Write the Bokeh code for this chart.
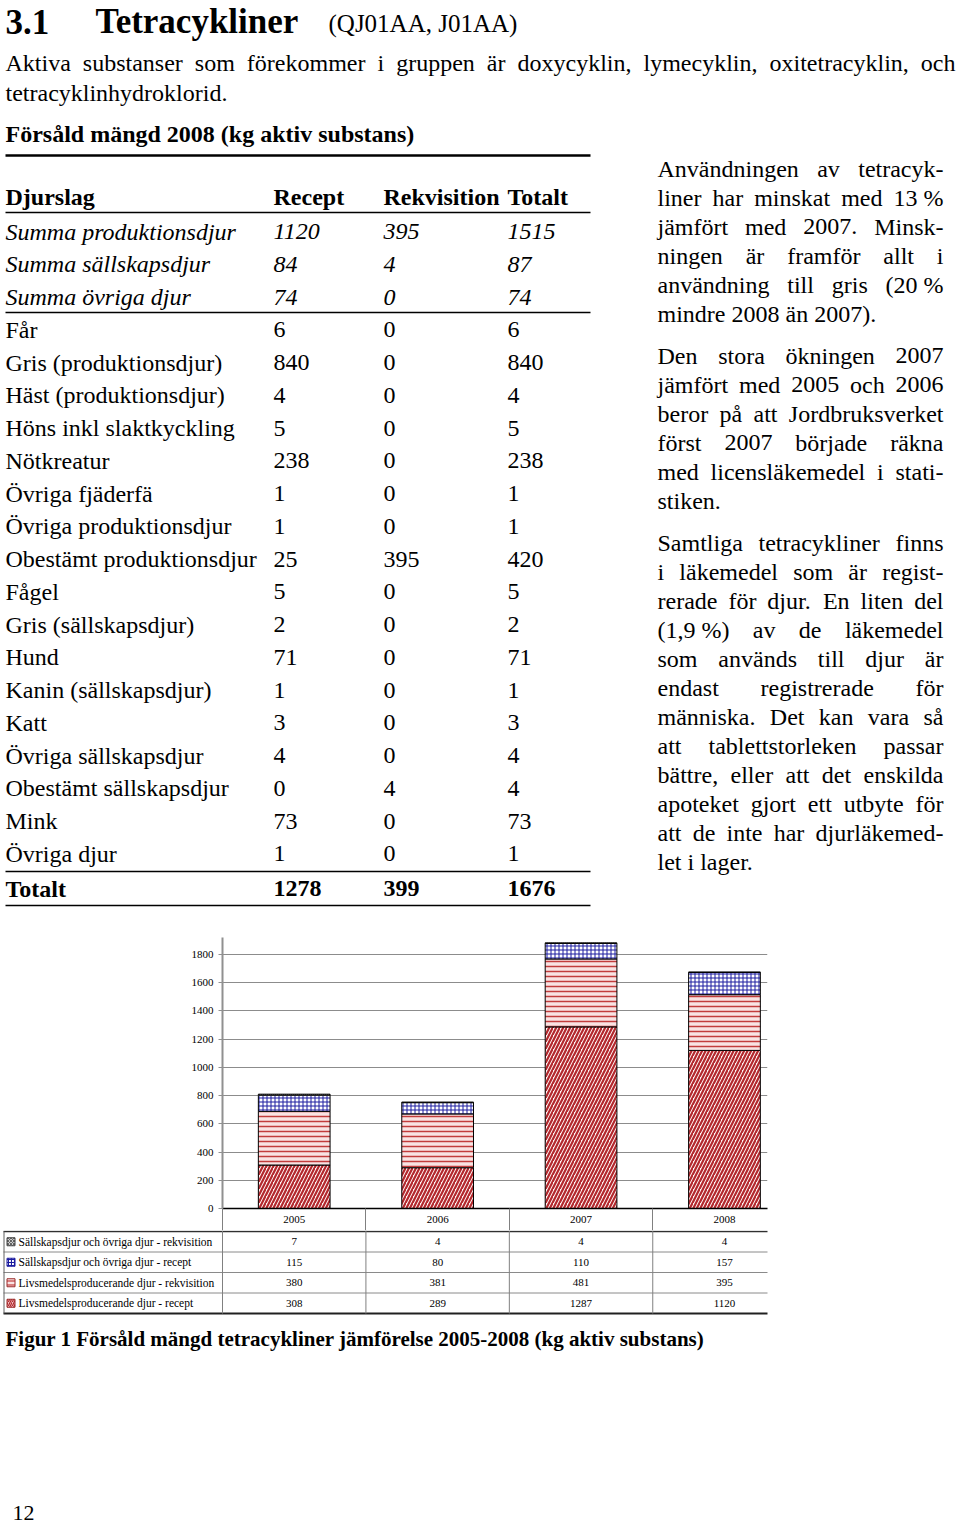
from bokeh.plotting import figure
from bokeh.models import Range1d, FixedTicker, ColumnDataSource
from bokeh.layouts import column
from bokeh.core.properties import value
from bokeh.embed import file_html
from bokeh.resources import INLINE

# ---------------- data ----------------
years = ["2005", "2006", "2007", "2008"]
livs_recept = [308, 289, 1287, 1120]
livs_rekvisition = [380, 381, 481, 395]
sall_recept = [115, 80, 110, 157]
sall_rekvisition = [7, 4, 4, 4]
y_ticks = [0, 200, 400, 600, 800, 1000, 1200, 1400, 1600, 1800]
legend_labels = [
    "Sällskapsdjur och övriga djur - rekvisition",
    "Sällskapsdjur och övriga djur - recept",
    "Livsmedelsproducerande djur - rekvisition",
    "Livsmedelsproducerande djur - recept",
]

table_header = ["Djurslag", "Recept", "Rekvisition", "Totalt"]
djurslag = ["Summa produktionsdjur", "Summa sällskapsdjur", "Summa övriga djur",
            "Får", "Gris (produktionsdjur)", "Häst (produktionsdjur)",
            "Höns inkl slaktkyckling", "Nötkreatur", "Övriga fjäderfä",
            "Övriga produktionsdjur", "Obestämt produktionsdjur", "Fågel",
            "Gris (sällskapsdjur)", "Hund", "Kanin (sällskapsdjur)", "Katt",
            "Övriga sällskapsdjur", "Obestämt sällskapsdjur", "Mink", "Övriga djur"]
recept = [1120, 84, 74, 6, 840, 4, 5, 238, 1, 1, 25, 5, 2, 71, 1, 3, 4, 0, 73, 1]
rekvisition = [395, 4, 0, 0, 0, 0, 0, 0, 0, 0, 395, 0, 0, 0, 0, 0, 0, 4, 0, 0]
totalt = [1515, 87, 74, 6, 840, 4, 5, 238, 1, 1, 420, 5, 2, 71, 1, 3, 4, 4, 73, 1]
totalt_row = ["Totalt", 1278, 399, 1676]

intro_lines = ["Aktiva substanser som förekommer i gruppen är doxycyklin, lymecyklin, oxitetracyklin, och",
               "tetracyklinhydroklorid."]
paragraphs = [
    ["Användningen av tetracyk-", "liner har minskat med 13\u00a0%", "jämfört med 2007. Minsk-",
     "ningen är framför allt i", "användning till gris (20\u00a0%", "mindre 2008 än 2007)."],
    ["Den stora ökningen 2007", "jämfört med 2005 och 2006", "beror på att Jordbruksverket",
     "först 2007 började räkna", "med licensläkemedel i stati-", "stiken."],
    ["Samtliga tetracykliner finns", "i läkemedel som är regist-", "rerade för djur. En liten del",
     "(1,9\u00a0%) av de läkemedel", "som används till djur är", "endast registrerade för",
     "människa. Det kan vara så", "att tablettstorleken passar", "bättre, eller att det enskilda",
     "apoteket gjort ett utbyte för", "att de inte har djurläkemed-", "let i lager."],
]

FONT = "Liberation Serif"
SERIF = value(FONT)

# Times (Liberation Serif) advance widths, per 1000 em
TIMES = {' ': 250, '\u00a0': 250, '%': 833, '(': 333, ')': 333, ',': 250, '-': 333, '.': 250,
         'A': 722, 'B': 667, 'C': 667, 'D': 722, 'E': 611, 'F': 556, 'G': 722, 'H': 722, 'I': 333,
         'J': 389, 'K': 722, 'L': 611, 'M': 889, 'N': 722, 'O': 722, 'P': 556, 'Q': 722, 'R': 667,
         'S': 556, 'T': 611, 'U': 722, 'V': 722, 'W': 944, 'X': 722, 'Y': 722, 'Z': 611,
         'a': 444, 'b': 500, 'c': 444, 'd': 500, 'e': 444, 'f': 333, 'g': 500, 'h': 500, 'i': 278,
         'j': 278, 'k': 500, 'l': 278, 'm': 778, 'n': 500, 'o': 500, 'p': 500, 'q': 500, 'r': 333,
         's': 389, 't': 278, 'u': 500, 'v': 500, 'w': 722, 'x': 500, 'y': 500, 'z': 444,
         'å': 444, 'ä': 444, 'ö': 500, 'Ö': 722, 'Ä': 722, 'Å': 722}


def tw(s, size):
    return sum(TIMES.get(c, 500) for c in s) * size / 1000.0


def txt(p, xs, ys, texts, size, style="normal", align="left", baseline="middle", **kw):
    p.text(x=xs, y=ys, text=texts, text_font=SERIF, text_font_size=f"{size}px",
           text_font_style=style, text_align=align, text_baseline=baseline,
           text_color="black", **kw)


def justified(p, line, x0, x1, y, size, justify=True):
    words = line.split(" ")
    if not justify or len(words) == 1:
        txt(p, [x0], [y], [line], size)
        return
    widths = [tw(w, size) for w in words]
    gap = (x1 - x0 - sum(widths)) / (len(words) - 1)
    xs, x = [], x0
    for w in widths:
        xs.append(x)
        x += w + gap
    txt(p, xs[:-1], [y] * (len(words) - 1), words[:-1], size)
    txt(p, [x1], [y], [words[-1]], size, align="right")


BODY = 24
W = 956

# ---------------- top: text and table ----------------
pA = figure(width=W, height=923, x_range=Range1d(0, W), y_range=Range1d(923, 0),
            output_backend="svg", toolbar_location=None, min_border=0,
            x_axis_location=None, y_axis_location=None)
pA.frame_align = False
pA.grid.visible = False
pA.outline_line_color = None

txt(pA, [5, 95], [21, 21], ["3.1", "Tetracykliner"], 35, style="bold")
txt(pA, [328], [23], ["(QJ01AA, J01AA)"], 25)

justified(pA, intro_lines[0], 5, 955, 62, BODY)
justified(pA, intro_lines[1], 5, 955, 92, BODY, justify=False)

txt(pA, [5], [133], ["Försåld mängd 2008 (kg aktiv substans)"], BODY, style="bold")

col_x = [5, 273, 383, 507]
txt(pA, col_x, [196] * 4, table_header, BODY, style="bold")

row_y = [231 + 32.75 * i for i in range(len(djurslag))]
for i, name in enumerate(djurslag):
    style = "italic" if i < 3 else "normal"
    txt(pA, col_x, [row_y[i]] * 4,
        [name, str(recept[i]), str(rekvisition[i]), str(totalt[i])], BODY, style=style)
txt(pA, col_x, [888] * 4, [str(v) for v in totalt_row], BODY, style="bold")

pA.segment(x0=[5] * 5, x1=[590] * 5, y0=[155, 212, 312, 871, 905],
           y1=[155, 212, 312, 871, 905], line_color="black", line_width=[2.5, 1.5, 1.5, 1.5, 1.5])

para_top = [168, 355, 542]
for para, y0 in zip(paragraphs, para_top):
    for k, line in enumerate(para):
        justified(pA, line, 657, 943, y0 + 29 * k, BODY, justify=(k < len(para) - 1))

# ---------------- chart ----------------
X0, X1 = 0.5, 4.3
FRAME_L, FRAME_R = 222, 767
pB = figure(width=W, height=307, x_range=Range1d(X0, X1), y_range=Range1d(0, 1920),
            output_backend="svg", toolbar_location=None,
            min_border_left=FRAME_L, min_border_right=W - FRAME_R,
            min_border_top=14, min_border_bottom=22)
pB.frame_align = False
pB.outline_line_color = None
pB.xgrid.visible = False

src = ColumnDataSource(dict(x=[1, 2, 3, 4], livs_recept=livs_recept,
                            livs_rekvisition=livs_rekvisition,
                            sall_recept=sall_recept, sall_rekvisition=sall_rekvisition))
stackers = ["livs_recept", "livs_rekvisition", "sall_recept", "sall_rekvisition"]
fills = ["#fff6f6", "#f9e3e3", "white", "white"]
hatches = ["/", "-", "+", "x"]
hcolors = ["#b3282d", "#c23c3c", "#1c1ca0", "#606060"]
hscales = [7.0, 5.0, 4.0, 4.0]
hweights = [2.2, 1.5, 1.0, 1.0]
pB.vbar_stack(stackers, x="x", width=0.5, source=src, fill_color=fills,
              line_color="black", line_width=1, hatch_pattern=hatches,
              hatch_color=hcolors, hatch_scale=hscales, hatch_weight=hweights)

pB.xaxis.ticker = FixedTicker(ticks=[1, 2, 3, 4], minor_ticks=[0.5, 1.5, 2.5, 3.5])
pB.xaxis.major_label_overrides = {i + 1: y for i, y in enumerate(years)}
pB.xaxis.major_tick_out = 0
pB.xaxis.major_tick_in = 0
pB.xaxis.minor_tick_out = 22
pB.xaxis.minor_tick_in = 0
pB.xaxis.minor_tick_line_color = "#808080"
pB.xaxis.axis_line_color = "black"
pB.xaxis.axis_line_width = 1.5
pB.xaxis.major_label_text_font = FONT
pB.xaxis.major_label_text_font_size = "11px"
pB.xaxis.major_label_text_color = "black"
pB.xaxis.major_label_standoff = -15

pB.yaxis.ticker = FixedTicker(ticks=y_ticks, minor_ticks=[])
pB.yaxis.axis_line_color = "#909090"
pB.yaxis.axis_line_width = 2
pB.yaxis.major_tick_out = 4
pB.yaxis.major_tick_in = 0
pB.yaxis.major_tick_line_color = "#909090"
pB.yaxis.major_label_text_font = FONT
pB.yaxis.major_label_text_font_size = "11px"
pB.yaxis.major_label_text_color = "black"
pB.yaxis.major_label_standoff = 5
pB.ygrid.ticker = FixedTicker(ticks=y_ticks, minor_ticks=[])
pB.ygrid.grid_line_color = "#8c8c8c"
pB.ygrid.grid_line_width = 1

# ---------------- data table, caption, page number ----------------
pC = figure(width=W, height=294, x_range=Range1d(0, W), y_range=Range1d(1524, 1230),
            output_backend="svg", toolbar_location=None, min_border=0,
            x_axis_location=None, y_axis_location=None)
pC.frame_align = False
pC.grid.visible = False
pC.outline_line_color = None
cat_per_px = (X1 - X0) / (FRAME_R - FRAME_L)
pC.extra_x_ranges = {"cat": Range1d(X0 - FRAME_L * cat_per_px, X1 + (W - FRAME_R) * cat_per_px)}

row_lines = [1231, 1251.5, 1272, 1292.5, 1313]
row_mid = [(row_lines[i] + row_lines[i + 1]) / 2 for i in range(4)]
pC.segment(x0=[3] * 5, x1=[FRAME_R] * 5, y0=row_lines, y1=row_lines,
           line_color=["#303030", "#8a8a8a", "#8a8a8a", "#8a8a8a", "#202020"],
           line_width=[1.5, 1, 1, 1, 2])
pC.segment(x0=[0.5, 1.5, 2.5, 3.5], x1=[0.5, 1.5, 2.5, 3.5], y0=[1230] * 4, y1=[1313] * 4,
           line_color="#808080", line_width=1, x_range_name="cat")
pC.segment(x0=[3.5], x1=[3.5], y0=[1231], y1=[1313], line_color="#606060", line_width=1)

table_rows = [sall_rekvisition, sall_recept, livs_rekvisition, livs_recept]
for r, vals in enumerate(table_rows):
    txt(pC, [1, 2, 3, 4], [row_mid[r]] * 4, [str(v) for v in vals], 11, align="center",
        x_range_name="cat")
txt(pC, [18] * 4, row_mid, legend_labels, 11.5)
pC.rect(x=[10.5] * 4, y=row_mid, width=8, height=8,
        fill_color=[fills[3], fills[2], fills[1], "#f1c6c6"],
        hatch_pattern=[hatches[3], hatches[2], "-", hatches[0]],
        hatch_color=[hcolors[3], hcolors[2], hcolors[1], hcolors[0]],
        hatch_scale=[3.0, 3.0, 4.0, 4.0], hatch_weight=1.2,
        line_color=["#404040", "#1c1ca0", "#9a2a2a", "#9a2a2a"], line_width=1)

txt(pC, [5], [1338], ["Figur 1 Försåld mängd tetracykliner jämförelse 2005-2008 (kg aktiv substans)"],
    21, style="bold")
txt(pC, [12], [1512], ["12"], 22)

layout = column(pA, pB, pC, spacing=0)
open("out.html", "w").write(file_html(layout, INLINE))
